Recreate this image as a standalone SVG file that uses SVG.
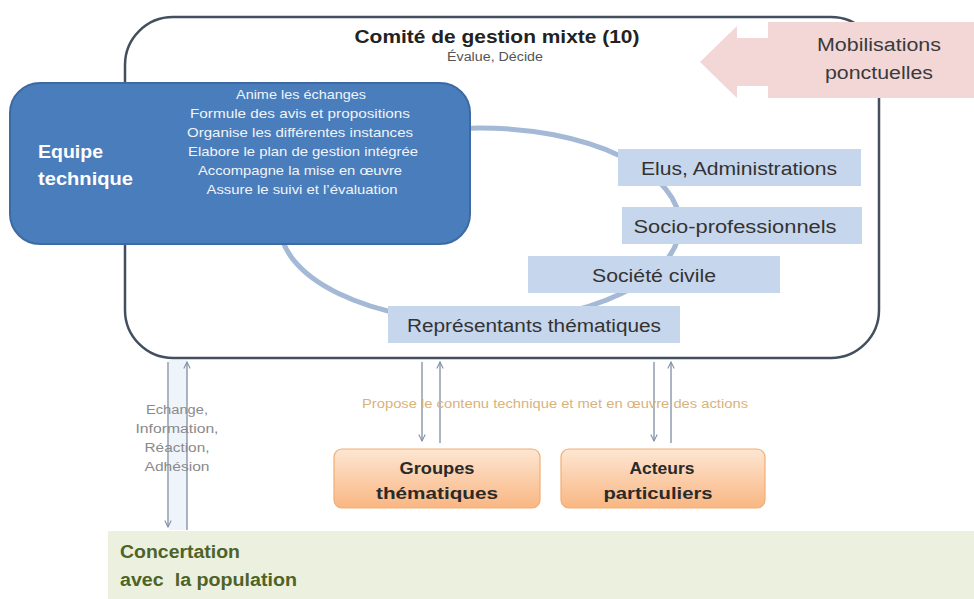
<svg xmlns="http://www.w3.org/2000/svg" width="974" height="599" viewBox="0 0 974 599">
<defs>
<linearGradient id="og" x1="0" y1="0" x2="0" y2="1">
<stop offset="0" stop-color="#fde6d3"/>
<stop offset="1" stop-color="#f9b682"/>
</linearGradient>
<marker id="ah" viewBox="0 0 10 10" refX="9" refY="5" markerWidth="8" markerHeight="8" orient="auto" markerUnits="userSpaceOnUse">
<path d="M1,1 L9,5 L1,9" fill="none" stroke="#7f8ea3" stroke-width="1.3"/>
</marker>
</defs>
<style>
text{font-family:"Liberation Sans",Arial,sans-serif}
.lb{fill:#c6d6ec}
.lbt{font-size:18px;fill:#333;text-anchor:middle}
.wt{font-size:13px;fill:#f0f4fa;text-anchor:middle}
.conn{stroke:#7f8ea3;stroke-width:1.3;fill:none}
.ob{fill:url(#og);stroke:#f2ad73;stroke-width:1.2}
.obt{font-size:17px;font-weight:bold;fill:#2a2a2a;text-anchor:middle}
.gt{font-size:12.5px;fill:#8a8a8a;text-anchor:middle}
</style>
<rect width="974" height="599" fill="#ffffff"/>
<rect x="169" y="360" width="18" height="170" fill="#eef4fa"/>
<g id="comite">
<rect x="125" y="17" width="754" height="341" rx="48" ry="48" fill="#ffffff" stroke="#434e5e" stroke-width="2.5"/>
<text x="497" y="43" font-size="18" font-weight="bold" fill="#222" text-anchor="middle" textLength="285" lengthAdjust="spacingAndGlyphs">Comité de gestion mixte (10)</text>
<text x="495" y="61" font-size="12" fill="#555" text-anchor="middle" textLength="96" lengthAdjust="spacingAndGlyphs">Évalue, Décide</text>
</g>
<g id="mobilisations">
<path d="M700,62 L737,26 L737,38 L768,38 L768,22 L974,22 L974,98 L768,98 L768,86 L737,86 L737,98 Z" fill="#f3d6d6"/>
<text x="879" y="51" font-size="18" fill="#3a3a3a" text-anchor="middle" textLength="124" lengthAdjust="spacingAndGlyphs">Mobilisations</text>
<text x="879" y="79" font-size="18" fill="#3a3a3a" text-anchor="middle" textLength="108" lengthAdjust="spacingAndGlyphs">ponctuelles</text>
</g>
<g id="ring">
<ellipse cx="480" cy="225" rx="200" ry="97" fill="none" stroke="#a3b9d6" stroke-width="5"/>
</g>
<g id="equipe">
<rect x="10" y="83" width="460" height="161" rx="30" ry="30" fill="#4a7dbb" stroke="#3d6aa2" stroke-width="2"/>
<text x="38" y="158" font-size="18" font-weight="bold" fill="#ffffff" textLength="65" lengthAdjust="spacingAndGlyphs">Equipe</text>
<text x="38" y="185" font-size="18" font-weight="bold" fill="#ffffff" textLength="95" lengthAdjust="spacingAndGlyphs">technique</text>
<text class="wt" x="301" y="99" textLength="130" lengthAdjust="spacingAndGlyphs">Anime les échanges</text>
<text class="wt" x="300" y="118" textLength="220" lengthAdjust="spacingAndGlyphs">Formule des avis et propositions</text>
<text class="wt" x="300" y="137" textLength="226" lengthAdjust="spacingAndGlyphs">Organise les différentes instances</text>
<text class="wt" x="303" y="156" textLength="230" lengthAdjust="spacingAndGlyphs">Elabore le plan de gestion intégrée</text>
<text class="wt" x="300" y="175" textLength="204" lengthAdjust="spacingAndGlyphs">Accompagne la mise en œuvre</text>
<text class="wt" x="302" y="194" textLength="191" lengthAdjust="spacingAndGlyphs">Assure le suivi et l’évaluation</text>
</g>
<g id="elus">
<rect class="lb" x="618" y="149" width="243" height="37"/>
<text class="lbt" x="739" y="175" textLength="196" lengthAdjust="spacingAndGlyphs">Elus, Administrations</text>
</g>
<g id="socio">
<rect class="lb" x="622" y="207" width="240" height="37"/>
<text class="lbt" x="735" y="233" textLength="203" lengthAdjust="spacingAndGlyphs">Socio-professionnels</text>
</g>
<g id="societe">
<rect class="lb" x="528" y="256" width="252" height="37"/>
<text class="lbt" x="654" y="282" textLength="124" lengthAdjust="spacingAndGlyphs">Société civile</text>
</g>
<g id="representants">
<rect class="lb" x="388" y="306" width="292" height="37"/>
<text class="lbt" x="534" y="332" textLength="254" lengthAdjust="spacingAndGlyphs">Représentants thématiques</text>
</g>
<g id="connectors">
<line class="conn" x1="168" y1="362" x2="168" y2="527" marker-end="url(#ah)"/>
<line class="conn" x1="187" y1="530" x2="187" y2="362" marker-end="url(#ah)"/>
<line class="conn" x1="422" y1="362" x2="422" y2="441" marker-end="url(#ah)"/>
<line class="conn" x1="440" y1="443" x2="440" y2="362" marker-end="url(#ah)"/>
<line class="conn" x1="654" y1="362" x2="654" y2="441" marker-end="url(#ah)"/>
<line class="conn" x1="671" y1="443" x2="671" y2="362" marker-end="url(#ah)"/>
<text class="gt" x="177" y="414" textLength="62" lengthAdjust="spacingAndGlyphs">Echange,</text>
<text class="gt" x="177" y="433" textLength="83" lengthAdjust="spacingAndGlyphs">Information,</text>
<text class="gt" x="177" y="452" textLength="65" lengthAdjust="spacingAndGlyphs">Réaction,</text>
<text class="gt" x="177" y="471" textLength="65" lengthAdjust="spacingAndGlyphs">Adhésion</text>
<text x="555" y="408" font-size="12" fill="#d9b37a" text-anchor="middle" textLength="386" lengthAdjust="spacingAndGlyphs">Propose le contenu technique et met en œuvre des actions</text>
</g>
<g id="groupes">
<rect class="ob" x="334" y="449" width="206" height="59" rx="8"/>
<text class="obt" x="437" y="474" textLength="75" lengthAdjust="spacingAndGlyphs">Groupes</text>
<text class="obt" x="437" y="499" textLength="122" lengthAdjust="spacingAndGlyphs">thématiques</text>
</g>
<g id="acteurs">
<rect class="ob" x="561" y="449" width="204" height="59" rx="8"/>
<text class="obt" x="662" y="474" textLength="65" lengthAdjust="spacingAndGlyphs">Acteurs</text>
<text class="obt" x="658" y="499" textLength="109" lengthAdjust="spacingAndGlyphs">particuliers</text>
</g>
<g id="concertation">
<rect x="108" y="531" width="866" height="68" fill="#ebf1de"/>
<text x="120" y="558" font-size="18" font-weight="bold" fill="#4f6228" textLength="120" lengthAdjust="spacingAndGlyphs">Concertation</text>
<text x="120" y="586" font-size="18" font-weight="bold" fill="#4f6228" xml:space="preserve" textLength="177" lengthAdjust="spacingAndGlyphs">avec  la population</text>
</g>
</svg>
